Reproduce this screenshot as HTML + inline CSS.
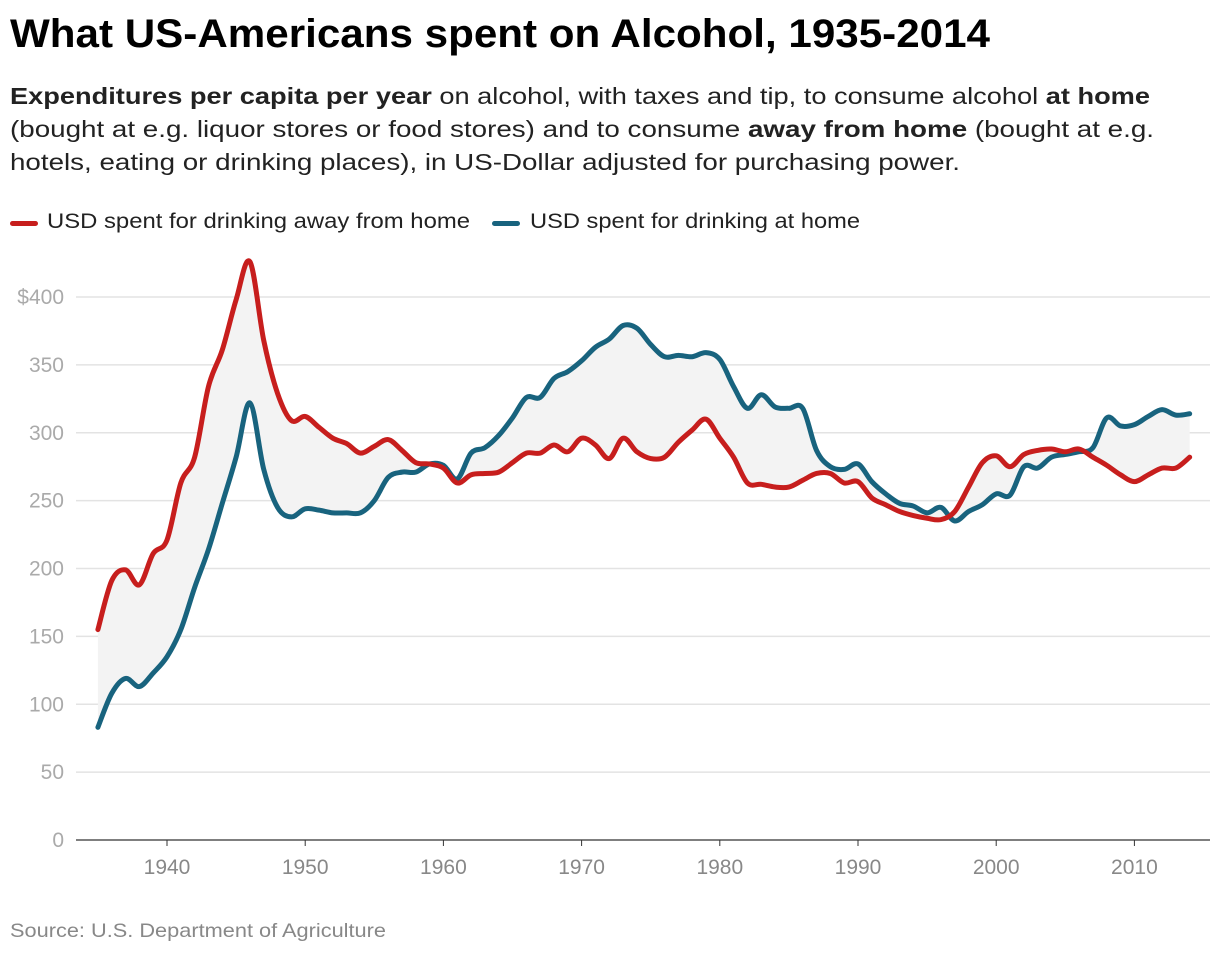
<!DOCTYPE html>
<html><head><meta charset="utf-8"><style>
body{margin:0;background:#fff;font-family:"Liberation Sans",sans-serif;}
#wrap{position:relative;width:1220px;height:956px;overflow:hidden}
.fit{position:absolute;white-space:nowrap;transform-origin:0 0;display:inline-block}
h1{margin:0;font-size:40px;font-weight:bold;color:#000}
.sub{font-size:23px;color:#222}
.leg{font-size:21px;color:#222}
.sw{position:absolute;width:28px;height:5px;border-radius:3px}
.src{font-size:19.5px;color:#888}
</style></head><body>
<div id="wrap">
<h1 class="fit" style="left:10px;top:12px" data-w="980">What US-Americans spent on Alcohol, 1935-2014</h1>
<div class="fit sub" style="left:10px;top:83px" data-w="1140"><b>Expenditures per capita per year</b> on alcohol, with taxes and tip, to consume alcohol <b>at home</b></div>
<div class="fit sub" style="left:10px;top:116px" data-w="1144">(bought at e.g. liquor stores or food stores) and to consume <b>away from home</b> (bought at e.g.</div>
<div class="fit sub" style="left:10px;top:149px" data-w="950">hotels, eating or drinking places), in US-Dollar adjusted for purchasing power.</div>
<div class="sw" style="left:10px;top:221px;background:#c71e1d"></div>
<div class="fit leg" style="left:47px;top:210px" data-w="423">USD spent for drinking away from home</div>
<div class="sw" style="left:492px;top:221px;background:#18637e"></div>
<div class="fit leg" style="left:530px;top:210px" data-w="330">USD spent for drinking at home</div>
<svg id="chart" width="1220" height="956" style="position:absolute;left:0;top:0"></svg>
<div class="fit src" style="left:10px;top:920px" data-w="376">Source: U.S. Department of Agriculture</div>
</div>
<script>
document.querySelectorAll('.fit').forEach(e=>{const w=e.getBoundingClientRect().width;e.style.transform='scaleX('+(+e.dataset.w/w)+')';});
const years=[];for(let y=1935;y<=2014;y++)years.push(y);
const awayValues=[155,191,199,188,211,221,263,282,334,361,398,426,368,329,309,312,304,296,292,285,290,295,287,278,277,274,263,269,270,271,278,285,285,291,286,296,291,281,296,286,281,282,293,302,310,296,282,263,262,260,260,265,270,270,263,264,252,247,242,239,237,236,242,260,278,283,275,284,287,288,286,288,282,276,269,264,269,274,274,282];
const homeValues=[83,108,119,113,123,135,155,186,214,248,282,322,273,245,238,244,243,241,241,241,250,267,271,271,277,276,266,285,289,298,311,326,326,340,345,353,363,369,379,377,365,356,357,356,359,354,334,318,328,319,318,318,287,275,273,277,264,255,248,246,241,245,235,242,247,255,254,275,274,282,284,286,289,311,305,306,312,317,313,314];
const yTicks=[0,50,100,150,200,250,300,350,400];
const xTicks=[1940,1950,1960,1970,1980,1990,2000,2010];
const NS='http://www.w3.org/2000/svg';
const svg=document.getElementById('chart');
const X=y=>97.9+(y-1935)*13.82;
const Y=v=>840-v*1.3575;
function mk(t,a){const e=document.createElementNS(NS,t);for(const k in a)e.setAttribute(k,a[k]);svg.appendChild(e);return e;}
yTicks.forEach(t=>{
 const l=mk('line',{x1:76,x2:1210,y1:Y(t),y2:Y(t),stroke:t===0?'#333':'#e3e3e3','stroke-width':t===0?1.2:1.5});
 
 
 const tx=mk('text',{x:64,y:Y(t)+7,'text-anchor':'end','font-size':21,fill:'#aaa','font-family':'Liberation Sans, sans-serif'});
 tx.textContent=(t===400?'$':'')+t;
 
 
});
xTicks.forEach(t=>{
 const l=mk('line',{x1:X(t),x2:X(t),y1:840,y2:846,stroke:'#333','stroke-width':1});
 
 
 const tx=mk('text',{x:X(t),y:874,'text-anchor':'middle','font-size':21,fill:'#888','font-family':'Liberation Sans, sans-serif'});
 tx.textContent=t;
 
 
});
function pts(vals){return vals.map((v,i)=>[X(years[i]),Y(v)]);}
function curve(p,move=true){
 let d=move?'M'+p[0][0]+','+p[0][1]:'L'+p[0][0]+','+p[0][1];
 for(let i=0;i<p.length-1;i++){
  const p0=p[i-1]||p[i],p1=p[i],p2=p[i+1],p3=p[i+2]||p2;
  const c1=[p1[0]+(p2[0]-p0[0])/6,p1[1]+(p2[1]-p0[1])/6];
  const c2=[p2[0]-(p3[0]-p1[0])/6,p2[1]-(p3[1]-p1[1])/6];
  d+=' C'+c1[0]+','+c1[1]+' '+c2[0]+','+c2[1]+' '+p2[0]+','+p2[1];
 }
 return d;
}
const pa=pts(awayValues),ph=pts(homeValues);
const area=mk('path',{d:curve(pa)+' '+curve(ph.slice().reverse(),false)+'Z',fill:'#f3f3f3'});


const lh=mk('path',{d:curve(ph),fill:'none',stroke:'#18637e','stroke-width':5,'stroke-linejoin':'round','stroke-linecap':'round'});


const la=mk('path',{d:curve(pa),fill:'none',stroke:'#c71e1d','stroke-width':5,'stroke-linejoin':'round','stroke-linecap':'round'});


</script>
</body></html>
